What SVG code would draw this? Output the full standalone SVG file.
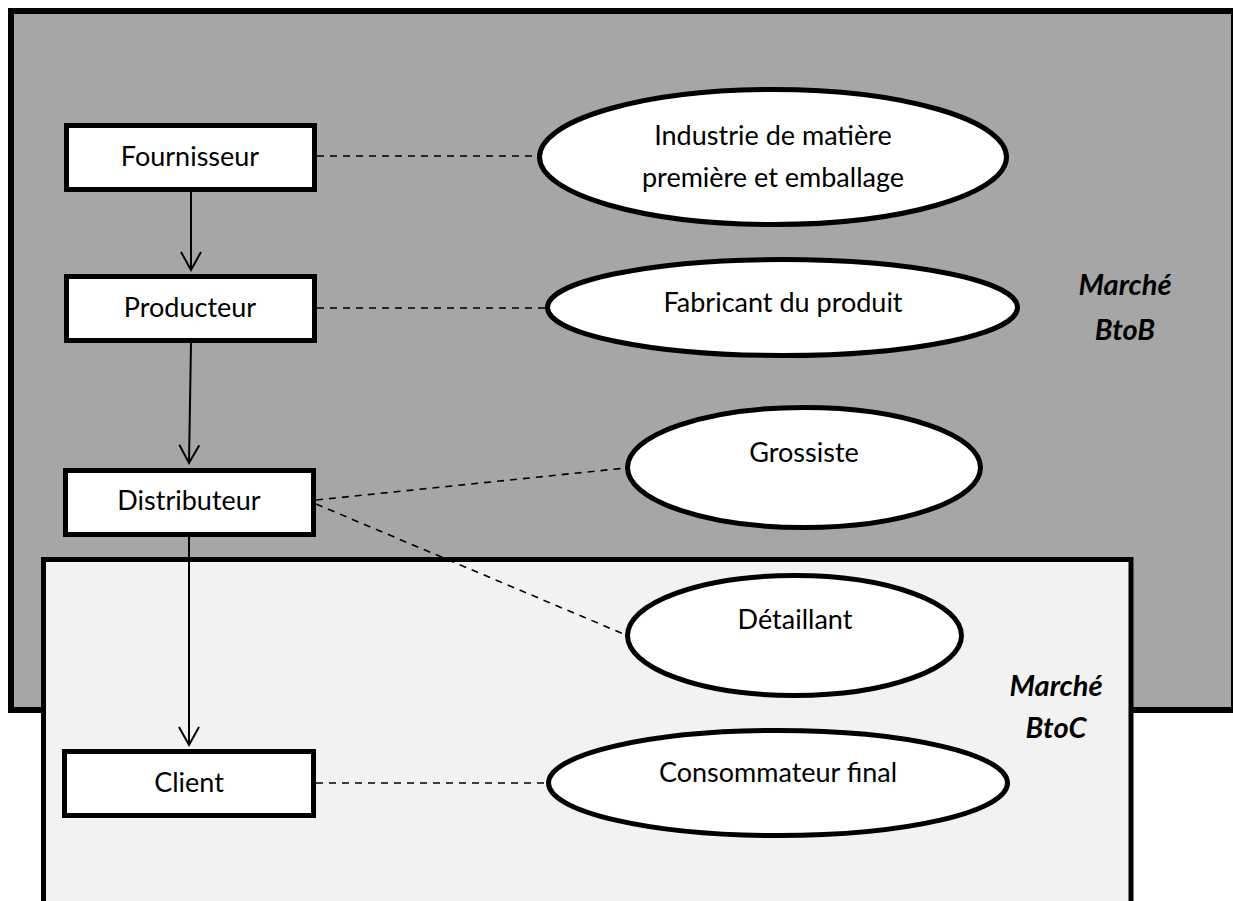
<svg xmlns="http://www.w3.org/2000/svg" width="1233" height="901" viewBox="0 0 1233 901">
<defs>
<style>
.box{fill:#ffffff;stroke:#000;stroke-width:5}
.ell{fill:#ffffff;stroke:#000;stroke-width:5}
.lbl{font-family:Lato,"Liberation Sans",sans-serif;font-size:27px;fill:#000;text-anchor:middle}
.mk{font-family:Lato,"Liberation Sans",sans-serif;font-size:29px;font-weight:bold;font-style:italic;fill:#000;text-anchor:middle}
.dash{stroke:#000;stroke-width:1.6;stroke-dasharray:7 6;fill:none}
.arrow{stroke:#000;stroke-width:2;fill:none;marker-end:url(#open)}
</style>
<marker id="open" markerUnits="userSpaceOnUse" markerWidth="40" markerHeight="40" refX="0" refY="0" orient="auto" overflow="visible">
<path d="M-18,-10 L0,0 L-18,10" fill="none" stroke="#000" stroke-width="2"/>
</marker>
</defs>
<rect width="1233" height="901" fill="#ffffff"/>
<g id="btob">
<rect x="11" y="11" width="1223" height="699" fill="#a6a6a6" stroke="#000" stroke-width="6"/>
<text class="mk" x="1125" y="295">Marché</text>
<text class="mk" x="1125" y="340">BtoB</text>
</g>
<g id="btoc">
<rect x="43.5" y="559.5" width="1087.5" height="360" fill="#f2f2f2" stroke="#000" stroke-width="5"/>
<text class="mk" x="1056" y="696">Marché</text>
<text class="mk" x="1056" y="738">BtoC</text>
</g>
<g id="connectors">
<line class="arrow" x1="191" y1="192" x2="191" y2="270"/>
<line class="arrow" x1="191" y1="343" x2="189" y2="463"/>
<line class="arrow" x1="189" y1="537" x2="189" y2="745"/>
<line class="dash" x1="317" y1="156" x2="538" y2="156"/>
<line class="dash" x1="317" y1="308" x2="546" y2="308"/>
<line class="dash" x1="316" y1="500" x2="626" y2="468"/>
<line class="dash" x1="316" y1="504" x2="626" y2="635"/>
<line class="dash" x1="316" y1="783" x2="547" y2="783"/>
</g>
<g id="fournisseur">
<rect class="box" x="66.5" y="125.5" width="248" height="64"/>
<text class="lbl" x="190" y="166">Fournisseur</text>
</g>
<g id="producteur">
<rect class="box" x="66.5" y="276.5" width="248" height="64"/>
<text class="lbl" x="190" y="317">Producteur</text>
</g>
<g id="distributeur">
<rect class="box" x="65.5" y="470.5" width="248" height="64"/>
<text class="lbl" x="189" y="510">Distributeur</text>
</g>
<g id="client">
<rect class="box" x="64.5" y="751.5" width="249" height="64"/>
<text class="lbl" x="189" y="792">Client</text>
</g>
<g id="industrie">
<ellipse class="ell" cx="773" cy="157" rx="233.5" ry="67.5"/>
<text class="lbl" x="773" y="145">Industrie de matière</text>
<text class="lbl" x="773" y="187">première et emballage</text>
</g>
<g id="fabricant">
<ellipse class="ell" cx="782.5" cy="307.5" rx="235" ry="48"/>
<text class="lbl" x="783" y="312">Fabricant du produit</text>
</g>
<g id="grossiste">
<ellipse class="ell" cx="804" cy="467.5" rx="176.5" ry="60"/>
<text class="lbl" x="804" y="462">Grossiste</text>
</g>
<g id="detaillant">
<ellipse class="ell" cx="794.5" cy="635.5" rx="167" ry="60"/>
<text class="lbl" x="795" y="629">Détaillant</text>
</g>
<g id="consommateur">
<ellipse class="ell" cx="778" cy="783" rx="229.5" ry="52.5"/>
<text class="lbl" x="778" y="782">Consommateur final</text>
</g>
</svg>
